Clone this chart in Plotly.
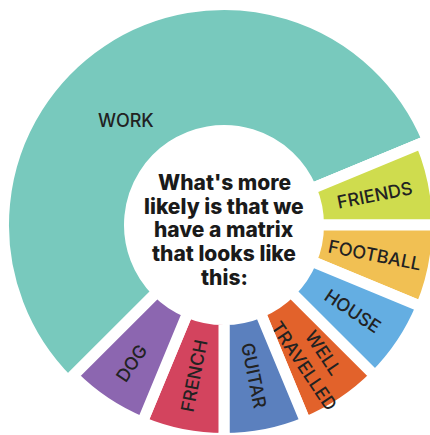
import plotly.graph_objects as go

# ---- data ----
labels = ["WORK", "FRIENDS", "FOOTBALL", "HOUSE", "WELL TRAVELLED", "GUITAR", "FRENCH", "DOG"]
values = [9, 1, 1, 1, 1, 1, 1, 1]
colors = ["#78C9BD", "#CFDC4E", "#F1C053", "#64AEE2", "#E2622B", "#5B80BE", "#D3445E", "#8C66B0"]
center_lines = ["What's more", "likely is that we", "have a matrix", "that looks like", "this:"]

# ---- geometry (pixels) ----
W = H = 450
cx, cy = 224, 225
lw = 11
r_in_vis = 100
r_big_vis = 215
r_small_vis = 208


def dom(r):
    return dict(x=[(cx - r) / W, (cx + r) / W], y=[(H - cy - r) / H, (H - cy + r) / H])


R_A = r_big_vis + lw / 2
R_B = r_small_vis + lw / 2
hole_A = (r_in_vis - lw / 2) / R_A
hole_B = (r_in_vis - lw / 2) / R_B

transparent = "rgba(0,0,0,0)"
colA = [colors[0]] + [transparent] * (len(labels) - 1)
colB = [transparent] + colors[1:]
lineB = [0] + [lw] * (len(labels) - 1)
textB = [""] + [l.replace(" ", "<br>") for l in labels[1:]]

fig = go.Figure()
fig.add_trace(go.Pie(
    labels=labels, values=values, sort=False, direction="clockwise", rotation=-135,
    hole=hole_A, domain=dom(R_A),
    marker=dict(colors=colA, line=dict(color="white", width=lw)),
    textinfo="none", hoverinfo="skip", showlegend=False,
))
fig.add_trace(go.Pie(
    labels=labels, values=values, sort=False, direction="clockwise", rotation=-135,
    hole=hole_B, domain=dom(R_B),
    marker=dict(colors=colB, line=dict(color="white", width=lineB)),
    text=textB, textinfo="text", insidetextorientation="radial",
    textposition="inside",
    textfont=dict(family="Inter", size=18, color="#222222", weight=500),
    hoverinfo="skip", showlegend=False,
))

line_gap = 23.5
y0 = 230 - line_gap * (len(center_lines) - 1) / 2
for i, line in enumerate(center_lines):
    fig.add_annotation(
        x=cx / W, y=(H - (y0 + i * line_gap)) / H, xref="paper", yref="paper",
        xanchor="center", yanchor="middle",
        text=line, showarrow=False,
        font=dict(family="Inter", size=21, color="#1a1a1a", weight=800),
    )
fig.add_annotation(
    x=126 / W, y=(H - 120) / H, xref="paper", yref="paper",
    xanchor="center", yanchor="middle",
    text=labels[0], showarrow=False,
    font=dict(family="Inter", size=18, color="#222222", weight=500),
)

fig.update_layout(
    width=W, height=H, margin=dict(l=0, r=0, t=0, b=0),
    paper_bgcolor="white", plot_bgcolor="white",
    uniformtext=dict(mode="show", minsize=18),
)

fig.write_html("out.html", post_script="document.documentElement.style.overflow='hidden';document.body.style.overflow='hidden';")
